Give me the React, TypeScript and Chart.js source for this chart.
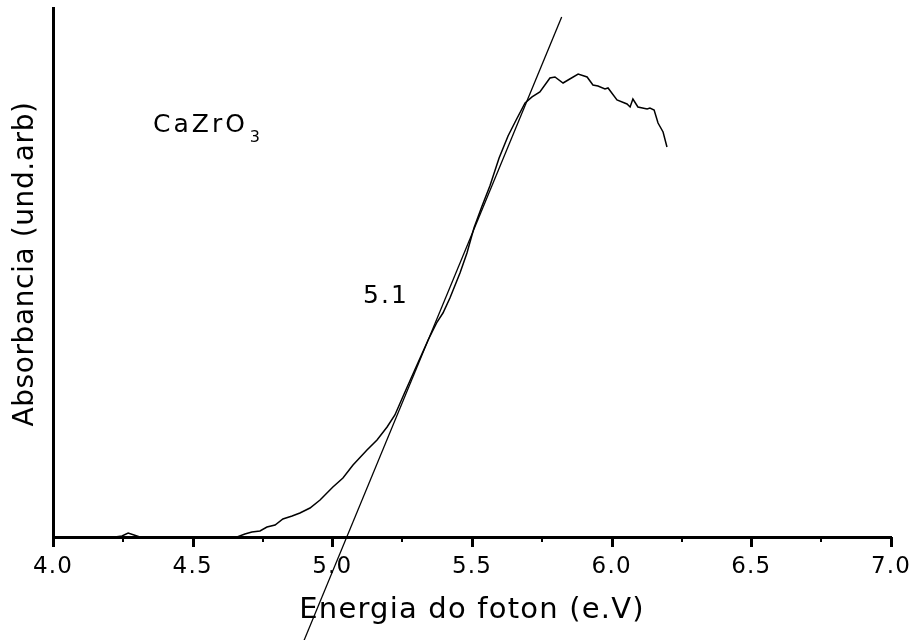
import React, { useEffect, useRef } from 'react';
import { Chart, registerables } from 'chart.js';

Chart.register(...registerables);

// Photon energy (eV) of the measured absorbance curve
const energy = [
  4.222, 4.247, 4.269, 4.29, 4.311, 4.383, 4.526, 4.659, 4.687, 4.712,
  4.741, 4.766, 4.795, 4.823, 4.856, 4.884, 4.92, 4.956, 5.002, 5.038,
  5.074, 5.124, 5.16, 5.196, 5.224, 5.26, 5.303, 5.343, 5.375, 5.396,
  5.421, 5.457, 5.482, 5.507, 5.536, 5.564, 5.597, 5.629, 5.658, 5.69,
  5.715, 5.743, 5.779, 5.797, 5.826, 5.844, 5.88, 5.912, 5.933, 5.951,
  5.976, 5.987, 6.019, 6.055, 6.066, 6.076, 6.094, 6.127, 6.137, 6.152,
  6.166, 6.184, 6.198,
];

// Absorbance (arbitrary units, 0..1 of axis height)
const absorbance = [
  0.0, 0.002, 0.0076, 0.0038, 0.0, 0.0, 0.0, 0.0, 0.0057, 0.0095,
  0.0113, 0.0189, 0.0227, 0.034, 0.0397, 0.0454, 0.0548, 0.0699, 0.0945, 0.1115,
  0.1361, 0.1645, 0.1834, 0.2079, 0.2306, 0.2741, 0.3251, 0.3724, 0.4064, 0.4234,
  0.4518, 0.4991, 0.5369, 0.5841, 0.6257, 0.6635, 0.7164, 0.758, 0.7883, 0.8204,
  0.8318, 0.8412, 0.8677, 0.8696, 0.8582, 0.8639, 0.8752, 0.8696, 0.8544, 0.8526,
  0.8469, 0.8488, 0.8261, 0.8185, 0.8129, 0.828, 0.8129, 0.8091, 0.811, 0.8072,
  0.7826, 0.7656, 0.7372,
];

// Linear (Tauc) extrapolation line
const tangentEnergy = [4.899, 5.821];
const tangentAbs = [-0.195, 0.983];

// Axis ticks
const xMin = 4.0;
const xMax = 7.0;
const xMinorStep = 0.25;
const yMin = 0;
const yMax = 1;

// Texts
const xTitle = 'Energia do foton (e.V)';
const yTitle = 'Absorbancia (und.arb)';
const sampleName = 'CaZrO';
const sampleSub = '3';
const gapLabel = '5.1';
// annotation anchors in data coordinates [energy, absorbance]
const sampleAnchor = [4.358, 0.7656];
const gapAnchor = [5.11, 0.442];
const yTitleCenter = 0.516;

const FONT = '"DejaVu Sans", Verdana, sans-serif';

const isMajor = (v: number) => Math.abs(v * 2 - Math.round(v * 2)) < 1e-6;

const textSpacing = {
  id: 'textSpacing',
  beforeDraw(chart: any) {
    (chart.ctx as any).letterSpacing = '1.2px';
  },
};

const tickMarks = {
  id: 'tickMarks',
  afterDraw(chart: any) {
    const sx = chart.scales.x;
    const ctx = chart.ctx as CanvasRenderingContext2D;
    const y0 = sx.top;
    ctx.save();
    ctx.strokeStyle = '#000';
    ctx.lineCap = 'butt';
    sx.ticks.forEach((t: any) => {
      const major = isMajor(t.value);
      const px = Math.round(sx.getPixelForValue(t.value)) + (major ? 0.5 : 0);
      ctx.lineWidth = major ? 3 : 2;
      ctx.beginPath();
      ctx.moveTo(px, y0);
      ctx.lineTo(px, y0 + (major ? 10 : 5));
      ctx.stroke();
    });
    ctx.restore();
  },
};

const annotations = {
  id: 'annotations',
  afterDraw(chart: any) {
    const { x, y } = chart.scales;
    const ctx = chart.ctx as any;
    ctx.save();
    ctx.fillStyle = '#000';
    ctx.textAlign = 'left';
    ctx.textBaseline = 'alphabetic';
    ctx.letterSpacing = '3px';
    ctx.font = `25px ${FONT}`;
    const sx = x.getPixelForValue(sampleAnchor[0]);
    const sy = y.getPixelForValue(sampleAnchor[1]);
    ctx.fillText(sampleName, sx, sy);
    const w = ctx.measureText(sampleName).width;
    ctx.font = `16px ${FONT}`;
    ctx.letterSpacing = '0px';
    ctx.fillText(sampleSub, sx + w + 2, sy + 10);
    ctx.letterSpacing = '2px';
    ctx.font = `25px ${FONT}`;
    ctx.fillText(gapLabel, x.getPixelForValue(gapAnchor[0]), y.getPixelForValue(gapAnchor[1]));

    // vertical axis title
    ctx.letterSpacing = '0.6px';
    ctx.font = `28px ${FONT}`;
    ctx.textAlign = 'center';
    ctx.textBaseline = 'middle';
    ctx.translate(26, y.getPixelForValue(yTitleCenter));
    ctx.rotate(-Math.PI / 2);
    ctx.fillText(yTitle, 0, 0);
    ctx.restore();
  },
};

export default function App() {
  const canvasRef = useRef<HTMLCanvasElement | null>(null);

  useEffect(() => {
    if (!canvasRef.current) return;
    const curve = energy.map((e, i) => ({ x: e, y: absorbance[i] }));
    const tangent = tangentEnergy.map((e, i) => ({ x: e, y: tangentAbs[i] }));
    const chart = new Chart(canvasRef.current, {
      type: 'line',
      data: {
        datasets: [
          {
            data: curve,
            borderColor: '#000',
            borderWidth: 1.5,
            pointRadius: 0,
            tension: 0,
            fill: false,
          },
          {
            data: tangent,
            borderColor: '#000',
            borderWidth: 1.3,
            pointRadius: 0,
            tension: 0,
            fill: false,
            clip: false as any,
          },
        ],
      },
      options: {
        animation: false,
        responsive: false,
        maintainAspectRatio: false,
        layout: { padding: { top: 8, right: 21, left: 0, bottom: 0 } },
        plugins: {
          legend: { display: false },
          tooltip: { enabled: false },
        },
        scales: {
          x: {
            type: 'linear',
            min: xMin,
            max: xMax,
            ticks: {
              stepSize: xMinorStep,
              autoSkip: false,
              maxRotation: 0,
              padding: 16,
              color: '#000',
              font: { family: FONT, size: 23 },
              callback: (v: any) => (isMajor(Number(v)) ? Number(v).toFixed(1) : ''),
            },
            grid: { display: false, drawTicks: false },
            border: { display: true, color: '#000', width: 3 },
            title: {
              display: true,
              text: xTitle,
              color: '#000',
              font: { family: FONT, size: 29 },
              padding: { top: 0, bottom: 12 },
            },
            afterFit: (s: any) => {
              s.height = 103;
              s.paddingLeft = 0;
              s.paddingRight = 0;
            },
          },
          y: {
            type: 'linear',
            min: yMin,
            max: yMax,
            ticks: { display: false },
            grid: { display: false, drawTicks: false },
            border: { display: true, color: '#000', width: 3 },
            title: { display: false, text: yTitle },
            afterFit: (s: any) => {
              s.width = 53;
            },
          },
        },
      },
      plugins: [textSpacing, tickMarks, annotations],
    } as any);
    return () => chart.destroy();
  }, []);

  return (
    <div style={{ position: 'absolute', left: 0, top: 0, width: 912, height: 640, background: '#fff' }}>
      <canvas ref={canvasRef} width={912} height={640} style={{ display: 'block' }} />
    </div>
  );
}
